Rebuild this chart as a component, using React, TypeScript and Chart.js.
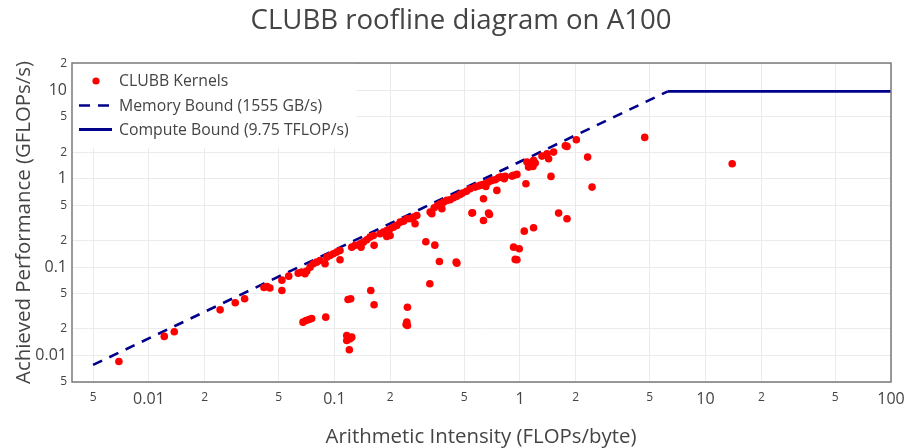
import React, { useEffect, useRef } from "react";
import { Chart, registerables } from "chart.js";

Chart.register(...registerables);

const chartTitle = "CLUBB roofline diagram on A100";
const xAxisTitle = "Arithmetic Intensity (FLOPs/byte)";
const yAxisTitle = "Achieved Performance (GFLOPs/s)";
const kernelLabel = "CLUBB Kernels";
const memoryLabel = "Memory Bound (1555 GB/s)";
const computeLabel = "Compute Bound (9.75 TFLOP/s)";

const kernelAI = [
  0.00689, 0.0121, 0.0137, 0.0242, 0.0292, 0.0328, 0.0417, 0.0433, 0.0449, 0.0521,
  0.0521, 0.0567, 0.0638, 0.0667, 0.0694, 0.0709, 0.0739, 0.0769, 0.0802, 0.0836,
  0.089, 0.0909, 0.0947, 0.0986, 0.1029, 0.1072, 0.1072, 0.124, 0.1292, 0.1375,
  0.1432, 0.1494, 0.1556, 0.1622, 0.1391, 0.1636, 0.1762, 0.1836, 0.1915, 0.1995,
  0.2079, 0.2169, 0.1915, 0.1995, 0.226, 0.2455, 0.2666, 0.278, 0.272, 0.256,
  0.2355, 0.328, 0.335, 0.3795, 0.3715, 0.387, 0.4036, 0.4206, 0.438, 0.457,
  0.476, 0.539, 0.574, 0.611, 0.65, 0.677, 0.706, 0.736, 0.766, 0.783,
  0.833, 0.924, 0.963, 0.751, 0.655, 0.636, 0.551, 0.636, 0.677, 0.685,
  1.091, 1.137, 1.184, 1.209, 1.113, 1.175, 1.314, 1.399, 1.427, 1.518,
  1.756, 1.793, 2.013, 2.316, 2.447, 1.47, 1.077, 4.703, 13.93, 1.616,
  1.793, 1.055, 1.184, 0.924, 0.991, 0.943, 0.963, 0.453, 0.457, 0.368,
  0.311, 0.3477, 0.3268, 0.555, 0.2474, 0.2455, 0.2474, 0.2434, 0.157, 0.1636,
  0.1224, 0.1184, 0.1165, 0.1165, 0.1214, 0.124, 0.1203, 0.0898, 0.0677, 0.0703,
  0.0729, 0.0754, 0.823, 0.8, 0.905, 0.49, 0.515, 0.59, 0.63, 0.36,
  0.345,
];

const kernelPerf = [
  0.00853, 0.0164, 0.0185, 0.0328, 0.0394, 0.0438, 0.0587, 0.0603, 0.058, 0.0711,
  0.0543, 0.0789, 0.0853, 0.0876, 0.084, 0.0899, 0.0997, 0.109, 0.1137, 0.1188,
  0.109, 0.1295, 0.1353, 0.1415, 0.1476, 0.154, 0.121, 0.168, 0.176, 0.1836,
  0.1914, 0.2037, 0.2182, 0.228, 0.168, 0.176, 0.2383, 0.2485, 0.2597, 0.2716,
  0.283, 0.296, 0.222, 0.228, 0.3225, 0.352, 0.367, 0.384, 0.309, 0.352,
  0.331, 0.419, 0.402, 0.457, 0.521, 0.543, 0.568, 0.578, 0.609, 0.631,
  0.664, 0.77, 0.803, 0.84, 0.878, 0.915, 0.957, 0.974, 1.026, 1.042,
  1.062, 1.09, 1.119, 0.737, 0.818, 0.594, 0.408, 0.337, 0.408, 0.394,
  1.542, 1.479, 1.611, 1.502, 1.353, 1.378, 1.803, 1.919, 1.684, 2.0,
  2.364, 2.32, 2.765, 1.757, 0.803, 1.062, 0.878, 2.936, 1.479, 0.408,
  0.352, 0.255, 0.279, 0.168, 0.161, 0.122, 0.121, 0.1137, 0.1107, 0.1157,
  0.1934, 0.177, 0.0647, 0.412, 0.0351, 0.0238, 0.0218, 0.0224, 0.0543, 0.0374,
  0.0438, 0.043, 0.0168, 0.01475, 0.0154, 0.0161, 0.01157, 0.0271, 0.0238, 0.0248,
  0.0255, 0.0262, 1.0, 1.042, 1.07, 0.69, 0.72, 0.82, 0.86, 0.5,
  0.47,
];

const memoryBoundAI = [0.005, 6.27];
const memoryBoundPerf = [0.0078, 9.75];
const computeBoundAI = [6.27, 100];
const computeBoundPerf = [9.75, 9.75];

const xTickValues = [0.005, 0.01, 0.02, 0.05, 0.1, 0.2, 0.5, 1, 2, 5, 10, 20, 50, 100];
const yTickValues = [0.005, 0.01, 0.02, 0.05, 0.1, 0.2, 0.5, 1, 2, 5, 10, 20];
const xRange = [0.00385, 100];
const yRange = [0.005, 20.4];

const FONT = '"Open Sans", "Noto Sans", sans-serif';
const TEXT = "#444444";
const NAVY = "#00008b";

const isMajor = (v: number) => {
  const l = Math.log10(v);
  return Math.abs(l - Math.round(l)) < 1e-9;
};
const tickLabel = (v: number) => {
  if (isMajor(v)) return String(v);
  const e = Math.floor(Math.log10(v) + 1e-9);
  return String(Math.round(v / Math.pow(10, e)));
};
const tickFont = (ctx: any) => {
  const v = ctx && ctx.tick ? ctx.tick.value : 1;
  return { family: FONT, size: isMajor(v) ? 16 : 12 };
};

const decorPlugin = {
  id: "decor",
  beforeDraw(chart: any) {
    const c = chart.ctx;
    c.save();
    c.fillStyle = "#ffffff";
    c.fillRect(0, 0, chart.width, chart.height);
    c.restore();
  },
  afterDatasetsDraw(chart: any) {
    const c = chart.ctx;
    const a = chart.chartArea;
    c.save();
    c.fillStyle = "#ffffff";
    c.fillRect(a.left, a.top, 284, 85);
    c.font = `15.8px ${FONT}`;
    c.fillStyle = TEXT;
    c.textAlign = "left";
    c.textBaseline = "middle";
    const tx = a.left + 47;
    c.beginPath();
    c.arc(a.left + 24, a.top + 18, 3.6, 0, Math.PI * 2);
    c.fillStyle = "#ff0000";
    c.fill();
    c.fillStyle = TEXT;
    c.fillText(kernelLabel, tx, a.top + 18.5);
    c.strokeStyle = NAVY;
    c.lineWidth = 2.6;
    c.setLineDash([11, 8]);
    c.beginPath();
    c.moveTo(a.left + 7, a.top + 42.5);
    c.lineTo(a.left + 40, a.top + 42.5);
    c.stroke();
    c.setLineDash([]);
    c.fillText(memoryLabel, tx, a.top + 43);
    c.beginPath();
    c.lineWidth = 2.8;
    c.moveTo(a.left + 7, a.top + 66.5);
    c.lineTo(a.left + 40, a.top + 66.5);
    c.stroke();
    c.fillText(computeLabel, tx, a.top + 67.5);
    c.restore();
  },
  afterDraw(chart: any) {
    const c = chart.ctx;
    const a = chart.chartArea;
    c.save();
    c.strokeStyle = "#7a7a7a";
    c.lineWidth = 1.5;
    c.strokeRect(a.left, a.top, a.right - a.left, a.bottom - a.top);
    c.fillStyle = TEXT;
    c.textAlign = "center";
    c.textBaseline = "middle";
    c.font = `27.6px ${FONT}`;
    c.fillText(chartTitle, 461, 21);
    c.font = `20.4px ${FONT}`;
    c.fillText(xAxisTitle, 481, 437);
    c.translate(24, (a.top + a.bottom) / 2);
    c.rotate(-Math.PI / 2);
    c.fillText(yAxisTitle, 0, 0);
    c.restore();
  },
};

export default function App() {
  const ref = useRef<HTMLCanvasElement | null>(null);
  useEffect(() => {
    if (!ref.current) return;
    const kernels = kernelAI.map((x, i) => ({ x, y: kernelPerf[i] }));
    const mem = memoryBoundAI.map((x, i) => ({ x, y: memoryBoundPerf[i] }));
    const comp = computeBoundAI.map((x, i) => ({ x, y: computeBoundPerf[i] }));
    const chart = new Chart(ref.current, {
      type: "scatter",
      data: {
        datasets: [
          {
            label: kernelLabel,
            data: kernels,
            backgroundColor: "#ff0000",
            borderWidth: 0,
            pointRadius: 3.8,
            pointHoverRadius: 3.8,
          },
          {
            label: memoryLabel,
            data: mem,
            showLine: true,
            borderColor: NAVY,
            borderWidth: 2.6,
            borderDash: [10, 8],
            pointRadius: 0,
            fill: false,
          },
          {
            label: computeLabel,
            data: comp,
            showLine: true,
            borderColor: NAVY,
            borderWidth: 2.8,
            pointRadius: 0,
            fill: false,
          },
        ],
      } as any,
      plugins: [decorPlugin],
      options: {
        animation: false,
        responsive: false,
        devicePixelRatio: 1,
        events: [],
        layout: { padding: { left: 0, right: 13, top: 63, bottom: 0 }, autoPadding: false },
        plugins: { legend: { display: false }, tooltip: { enabled: false }, title: { display: false } },
        scales: {
          x: {
            type: "logarithmic",
            min: xRange[0],
            max: xRange[1],
            afterBuildTicks: (s: any) => {
              s.ticks = xTickValues.map((v) => ({ value: v }));
            },
            afterFit: (s: any) => {
              s.height = 66;
              s.paddingLeft = 0;
              s.paddingRight = 0;
            },
            grid: { color: "#ebebeb", lineWidth: 1, drawTicks: false },
            border: { display: false },
            ticks: {
              padding: 8,
              color: TEXT,
              autoSkip: false,
              maxRotation: 0,
              font: tickFont as any,
              callback: (v: any) => tickLabel(Number(v)),
            },
          },
          y: {
            type: "logarithmic",
            min: yRange[0],
            max: yRange[1],
            afterBuildTicks: (s: any) => {
              s.ticks = yTickValues.map((v) => ({ value: v }));
            },
            afterFit: (s: any) => {
              s.width = 72;
              s.paddingTop = 0;
              s.paddingBottom = 0;
            },
            grid: { color: "#ebebeb", lineWidth: 1, drawTicks: false },
            border: { display: false },
            ticks: {
              padding: 5,
              color: TEXT,
              autoSkip: false,
              font: tickFont as any,
              callback: (v: any) => tickLabel(Number(v)),
            },
          },
        },
      } as any,
    });
    return () => chart.destroy();
  }, []);
  return (
    <div style={{ position: "absolute", left: 0, top: 0, width: 904, height: 448, background: "#fff" }}>
      <canvas ref={ref} width={904} height={448} style={{ display: "block" }} />
    </div>
  );
}
